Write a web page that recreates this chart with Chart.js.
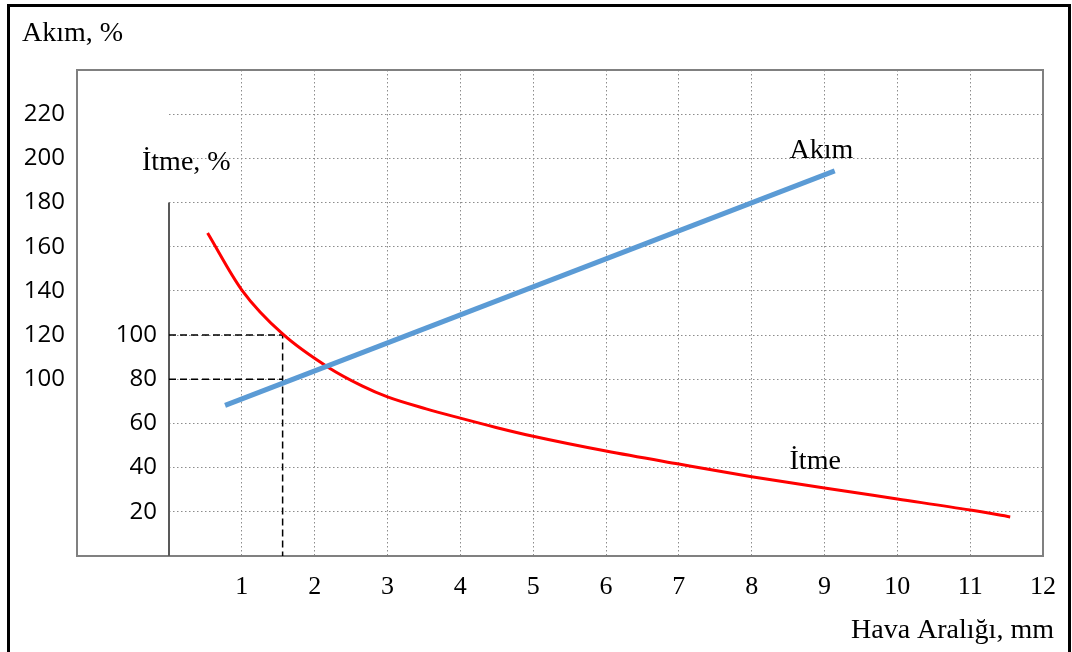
<!DOCTYPE html>
<html>
<head>
<meta charset="utf-8">
<script src="https://cdn.jsdelivr.net/npm/chart.js@4.4.0/dist/chart.umd.min.js"></script>
<style>
  html, body { margin: 0; background: #fff; }
  canvas { display: block; }
</style>
</head>
<body>
<canvas id="chart" width="1072" height="652"></canvas>
<script>
// === Data ===
const xTicks = [1, 2, 3, 4, 5, 6, 7, 8, 9, 10, 11, 12];
const yGridTicks = [20, 40, 60, 80, 100, 120, 140, 160, 180, 200];
const yInnerTicks = [20, 40, 60, 80, 100];          // "İtme, %" column
const yOuterTicks = [80, 100, 120, 140, 160, 180, 200];
const yOuterLabels = ['100', '120', '140', '160', '180', '200', '220']; // "Akım, %" column

const itmeX = [0.53, 1, 1.56, 2.2, 2.65, 3, 3.53, 4, 4.49, 5, 6, 7, 8, 9, 10, 11, 11.55];
const itmeY = [146.2, 120.4, 100.5, 85.1, 77.0, 72.0, 66.6, 62.4, 58.2, 54.2, 47.5, 41.6, 35.9, 30.8, 25.8, 20.8, 17.7];

const akimX = [0.77, 9.14];
const akimY = [68.2, 174.3];

const guideX = 1.56;
const guideHighY = 100;
const guideLowY = 80;

const serif = '"Liberation Serif", "Times New Roman", serif';
const sans = '"Open Sans", "Liberation Sans", sans-serif';
const gridDash = [1.5, 2.5];

const toPoints = (xs, ys) => xs.map((x, i) => ({ x, y: ys[i] }));

// === Extra drawing: boxes, inner axis, free texts ===
const decor = {
    id: 'decor',
    beforeDatasetsDraw(chart) {
        const { ctx, chartArea, scales } = chart;
        const left = scales.yOuter.right;
        ctx.save();
        ctx.strokeStyle = '#808080';
        ctx.lineWidth = 2;
        ctx.strokeRect(left, chartArea.top, chartArea.right - left, chartArea.bottom - chartArea.top);
        // inner "İtme" axis line
        ctx.strokeStyle = '#595959';
        ctx.beginPath();
        ctx.moveTo(chartArea.left, scales.y.getPixelForValue(160));
        ctx.lineTo(chartArea.left, chartArea.bottom);
        ctx.stroke();
        ctx.restore();
    },
    afterDraw(chart) {
        const { ctx, scales } = chart;
        ctx.save();
        ctx.fillStyle = '#000';
        ctx.textBaseline = 'alphabetic';
        ctx.textAlign = 'left';
        ctx.font = '28px ' + serif;
        ctx.fillText('Akım, %', 22, 41);
        ctx.fillText('İtme, %', 142, 170);
        ctx.fillText('Hava Aralığı, mm', 851, 638);
        ctx.fillText('Akım', scales.x.getPixelForValue(8.52), scales.y.getPixelForValue(180.2));
        ctx.fillText('İtme', scales.x.getPixelForValue(8.52), scales.y.getPixelForValue(39.4));
        // outer frame
        ctx.strokeStyle = '#000';
        ctx.lineWidth = 3;
        ctx.beginPath();
        ctx.moveTo(8.5, 660);
        ctx.lineTo(8.5, 5.5);
        ctx.lineTo(1069.5, 5.5);
        ctx.lineTo(1069.5, 660);
        ctx.stroke();
        ctx.restore();
    }
};

new Chart(document.getElementById('chart').getContext('2d'), {
    type: 'line',
    data: {
        datasets: [
            {
                label: 'Akım',
                data: toPoints(akimX, akimY),
                borderColor: '#5B9BD5',
                borderWidth: 5,
                pointRadius: 0
            },
            {
                label: 'İtme',
                data: toPoints(itmeX, itmeY),
                borderColor: '#FF0000',
                borderWidth: 3,
                pointRadius: 0,
                cubicInterpolationMode: 'monotone'
            },
            {
                label: 'guide100',
                data: [{ x: 0, y: guideHighY }, { x: guideX, y: guideHighY }, { x: guideX, y: 0 }],
                borderColor: '#000',
                borderWidth: 1.5,
                borderDash: [7, 4],
                pointRadius: 0
            },
            {
                label: 'guide80',
                data: [{ x: 0, y: guideLowY }, { x: guideX, y: guideLowY }],
                borderColor: '#000',
                borderWidth: 1.5,
                borderDash: [7, 4],
                pointRadius: 0
            }
        ]
    },
    options: {
        responsive: false,
        animation: false,
        events: [],
        layout: { padding: { left: 0, top: 70, right: 26, bottom: 0 } },
        plugins: { legend: { display: false }, tooltip: { enabled: false } },
        scales: {
            x: {
                type: 'linear',
                min: 0,
                max: 12,
                afterBuildTicks: s => { s.ticks = xTicks.map(v => ({ value: v })); },
                afterFit: s => { s.height = 96; },
                ticks: {
                    autoSkip: false,
                    maxRotation: 0,
                    padding: 16,
                    color: '#000',
                    font: { family: serif, size: 26 }
                },
                grid: {
                    color: c => (c.tick && c.tick.value === 12) ? 'rgba(0,0,0,0)' : '#8c8c8c',
                    lineWidth: 1,
                    drawTicks: false
                },
                border: { display: false, dash: gridDash }
            },
            y: {
                position: 'left',
                weight: 0,
                min: 0,
                max: 220,
                afterBuildTicks: s => { s.ticks = yGridTicks.map(v => ({ value: v })); },
                afterFit: s => { s.width = 92; },
                ticks: {
                    autoSkip: false,
                    padding: 12,
                    color: '#000',
                    font: { family: sans, size: 24 },
                    callback: v => yInnerTicks.includes(v) ? String(v) : ''
                },
                grid: { color: '#8c8c8c', lineWidth: 1, drawTicks: false },
                border: { display: false, dash: gridDash }
            },
            yOuter: {
                position: 'left',
                weight: 1,
                min: 0,
                max: 220,
                afterBuildTicks: s => { s.ticks = yOuterTicks.map(v => ({ value: v })); },
                afterFit: s => { s.width = 77; },
                ticks: {
                    autoSkip: false,
                    padding: 12,
                    color: '#000',
                    font: { family: sans, size: 24 },
                    callback: v => yOuterLabels[yOuterTicks.indexOf(v)]
                },
                grid: { display: false, drawTicks: false },
                border: { display: false }
            }
        }
    },
    plugins: [decor]
});
</script>
</body>
</html>
